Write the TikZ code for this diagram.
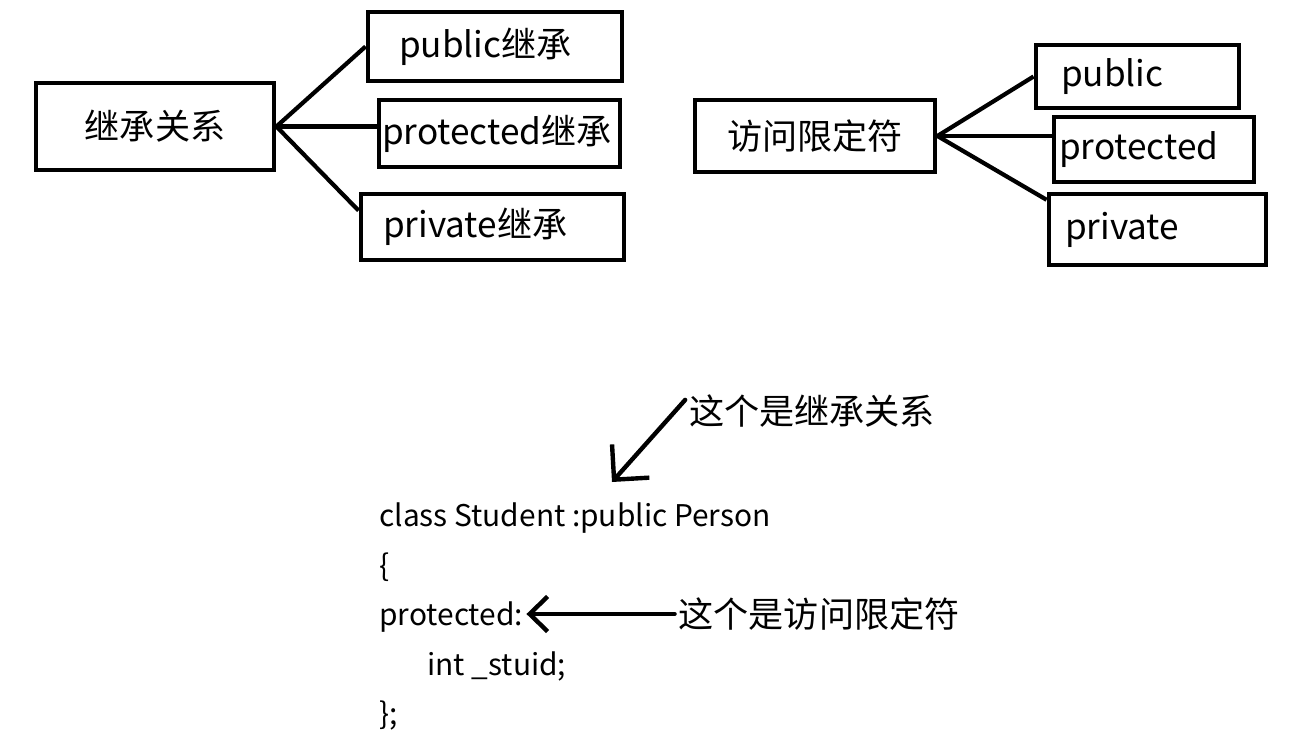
\documentclass[tikz,border=0pt]{standalone}
\usepackage{fontspec}
\setmainfont{Noto Sans CJK SC}
\usetikzlibrary{arrows.meta}

\begin{document}
\begin{tikzpicture}[x=0.02cm,y=-0.02cm,
  box/.style={draw,line width=2.8pt,inner sep=0pt,font=\fontsize{20}{24}\selectfont},
  lbox/.style={box,align=left},
  link/.style={line width=2.4pt},
  note/.style={font=\fontsize{20}{24}\selectfont,inner sep=2pt},
  code/.style={font=\fontsize{17}{21}\selectfont,anchor=base west,inner sep=0pt},
  pointer/.style={line width=2.5pt,line cap=round,line join=round}]
  \useasboundingbox (0,0) rectangle (1316,747);
  % inheritance kinds
  \node[box,minimum width=4.76cm,minimum height=1.74cm] (inh) at (155,126.5) {继承关系};
  \node[lbox,text width=5.08cm,minimum height=1.38cm] (ipub) at (495,46.5) {\hspace*{0.62cm}public继承};
  \node[lbox,text width=4.82cm,minimum height=1.34cm] (iprot) at (499.5,133.5) {\hspace*{0.06cm}protected继承};
  \node[lbox,text width=5.26cm,minimum height=1.32cm] (ipriv) at (492.5,227) {\hspace*{0.44cm}private继承};
  \draw[link] (inh.east) -- (ipub.west);
  \draw[link] (inh.east) -- (iprot.west |- inh.east);
  \draw[link] (inh.east) -- (ipriv.173);
  % access specifiers
  \node[box,minimum width=4.8cm,minimum height=1.44cm] (acc) at (815,136) {访问限定符};
  \node[lbox,text width=4.06cm,minimum height=1.26cm] (apub) at (1137.5,76.5) {\hspace*{0.5cm}public};
  \node[lbox,text width=4.0cm,minimum height=1.3cm] (aprot) at (1154,149.5) {\hspace*{0.1cm}protected};
  \node[lbox,text width=4.34cm,minimum height=1.42cm] (apriv) at (1157.5,229.5) {\hspace*{0.32cm}private};
  \draw[link] (acc.east) -- (apub.west);
  \draw[link] (acc.east) -- (aprot.west |- acc.east);
  \draw[link] (acc.east) -- (apriv.165);
  % code sample
  \node[code] (cls) at (379,526) {class Student :public Person};
  \node[code] (lbr) at (379,576) {\{};
  \node[code] (prot) at (379,625) {protected:};
  \node[code] (mem) at (427,675) {int \_stuid;};
  \node[code] (rbr) at (379,724) {\};};
  % notes
  \node[note] (note1) at (812,411) {这个是继承关系};
  \coordinate (inhtip) at (612,482);
  \draw[pointer,-{Straight Barb[length=0.5cm,width=1cm]}] (note1.175) -- (inhtip);
  \node[note] (note2) at (819,614) {这个是访问限定符};
  \draw[pointer,shorten >=0.06cm,-{Straight Barb[length=0.36cm,width=0.7cm]}] (note2.west) -- (note2.west -| prot.east);
\end{tikzpicture}
\end{document}
